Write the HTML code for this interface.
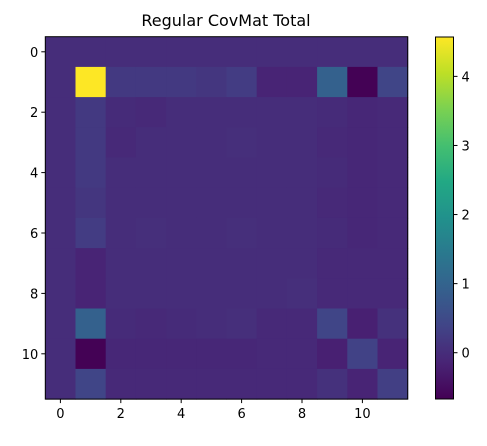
<!DOCTYPE html>
<html><head><meta charset="utf-8"><style>
body{margin:0;background:#fff;font-family:"Liberation Sans","DejaVu Sans",sans-serif;}
text{font-family:"DejaVu Sans","Liberation Sans",sans-serif;}
</style></head><body>
<svg id="chart" width="487" height="441" xmlns="http://www.w3.org/2000/svg">
<defs><linearGradient id="cb" x1="0" y1="1" x2="0" y2="0"></linearGradient></defs>
<text x="226" y="26" font-size="16" text-anchor="middle">Regular CovMat Total</text>
<g id="cells"></g><g id="axes"></g>
</svg>
<script>
const rowLabels=[0,1,2,3,4,5,6,7,8,9,10,11];
const row0=[0,0,0,0,0,0,0,0,0,0,0,0];
const row1=[0,4.57,0.2,0.2,0.2,0.15,0.25,-0.15,-0.15,0.95,-0.65,0.4];
const row2=[0,0.2,-0.03,-0.07,0,0,0,0,0,-0.03,-0.1,-0.06];
const row3=[0,0.2,-0.07,0,0,0,0.04,0,0,-0.06,-0.1,-0.06];
const row4=[0,0.2,0,0,0,0,0,0,0,-0.03,-0.1,-0.06];
const row5=[0,0.15,0,0,0,0,0,0,0,-0.06,-0.1,-0.06];
const row6=[0,0.25,0,0.04,0,0,0.04,0,0,-0.03,-0.1,-0.06];
const row7=[0,-0.15,0,0,0,0,0,0,0,-0.06,-0.06,-0.06];
const row8=[0,-0.15,0,0,0,0,0,0,0.03,-0.06,-0.06,-0.06];
const row9=[0,0.95,-0.03,-0.06,-0.03,0,0.04,-0.06,-0.06,0.4,-0.2,0.07];
const row10=[0,-0.65,-0.1,-0.1,-0.1,-0.1,-0.1,-0.06,-0.06,-0.2,0.35,-0.15];
const row11=[0,0.4,-0.06,-0.06,-0.06,-0.06,-0.06,-0.06,-0.06,0.07,-0.15,0.3];
const matrix=[row0,row1,row2,row3,row4,row5,row6,row7,row8,row9,row10,row11];
const axisTicks=[0,2,4,6,8,10];
const cbTicks=[0,1,2,3,4];
const vmin=-0.67, vmax=4.57;

const NS="http://www.w3.org/2000/svg";
const L=45.3,T=36.7,W=362.4,H=362.4,n=12,cw=W/n,ch=H/n;
const stops=["#440154","#482475","#414487","#355f8d","#2a788e","#21918c","#22a884","#44bf70","#7ad151","#bddf26","#fde725"];
function hex(c){return [1,3,5].map(i=>parseInt(c.substr(i,2),16));}
function viridis(t){t=Math.max(0,Math.min(1,t));const p=t*10,i=Math.min(9,Math.floor(p)),f=p-i;const a=hex(stops[i]),b=hex(stops[i+1]);return "rgb("+a.map((v,k)=>Math.round(v+(b[k]-v)*f)).join(",")+")";}
function xs(c){return L+c*cw;} function ys(r){return T+r*ch;}
function mk(tag,attrs,parent){const e=document.createElementNS(NS,tag);for(const k in attrs)e.setAttribute(k,attrs[k]);parent.appendChild(e);return e;}
const cells=document.getElementById('cells'),axes=document.getElementById('axes');
matrix.forEach((row,r)=>row.forEach((v,c)=>{
  const e=mk('rect',{x:xs(c),y:ys(r),width:cw+0.5,height:ch+0.5,fill:viridis((v-vmin)/(vmax-vmin))},cells);
  
  
}));
const fr=mk('rect',{x:L,y:T,width:W,height:H,fill:'none',stroke:'#000','stroke-width':1},axes);


axisTicks.forEach(t=>{
  const x=xs(t+0.5),y=ys(t+0.5);
  mk('line',{x1:x,y1:T+H,x2:x,y2:T+H+4,stroke:'#000'},axes);
  const tx=mk('text',{x:x,y:T+H+19,'font-size':13,'text-anchor':'middle'},axes);tx.textContent=t;
  
  
  mk('line',{x1:L-4,y1:y,x2:L,y2:y,stroke:'#000'},axes);
  const ty=mk('text',{x:L-7,y:y+5,'font-size':13,'text-anchor':'end'},axes);ty.textContent=t;
  
  
});
const CX=435.5,CW=18,CT=37,CB=399;
const grad=document.getElementById('cb');
for(let i=0;i<=20;i++){mk('stop',{offset:(i/20),'stop-color':viridis(i/20)},grad);}
const cb=mk('rect',{x:CX,y:CT,width:CW,height:CB-CT,fill:'url(#cb)',stroke:'#000','stroke-width':1},axes);


cbTicks.forEach(t=>{
  const y=CB-(t-vmin)/(vmax-vmin)*(CB-CT);
  mk('line',{x1:CX+CW,y1:y,x2:CX+CW+4,y2:y,stroke:'#000'},axes);
  const tt=mk('text',{x:CX+CW+8,y:y+5,'font-size':13},axes);tt.textContent=t;
  
  
});
</script>
</body></html>
